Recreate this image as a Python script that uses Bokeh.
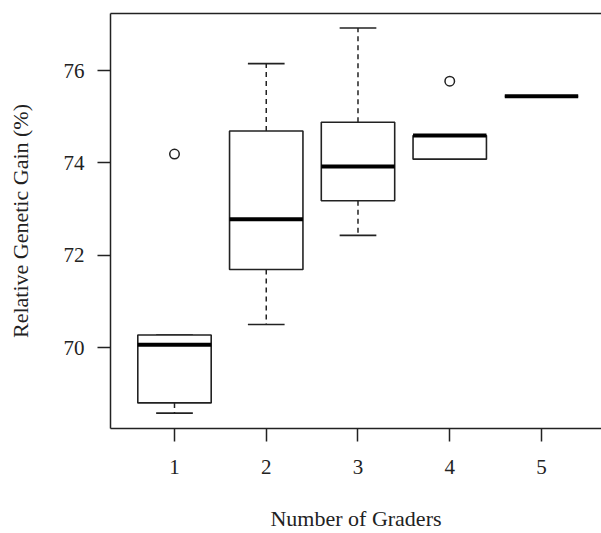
from bokeh.plotting import figure
from bokeh.models import Range1d, LinearAxis, FixedTicker
from bokeh.embed import file_html
from bokeh.resources import INLINE

# ---- data ----
graders = [1, 2, 3, 4, 5]
lower_whisker = [68.58, 70.50, 72.43, 74.08, 75.44]
q1 = [68.80, 71.69, 73.18, 74.08, 75.44]
median = [70.06, 72.78, 73.92, 74.59, 75.44]
q3 = [70.27, 74.69, 74.88, 74.59, 75.44]
upper_whisker = [70.27, 76.15, 76.92, 74.59, 75.44]
outlier_x = [1, 4]
outlier_y = [74.19, 75.77]
y_ticks = [70, 72, 74, 76]
x_ticks = [1, 2, 3, 4, 5]

FONT = "Liberation Serif"
LINE = "#222222"
box_w = 0.8
cap_w = 0.4

p = figure(width=601, height=533, output_backend="svg", toolbar_location=None,
           x_range=Range1d(0.3025, 5.654), y_range=Range1d(68.246, 77.235),
           min_border_left=110, min_border_right=0, min_border_top=13,
           min_border_bottom=105, background_fill_color="white",
           border_fill_color="white")
p.outline_line_color = None
p.grid.visible = False

left = [g - box_w / 2 for g in graders]
right = [g + box_w / 2 for g in graders]
cap_l = [g - cap_w / 2 for g in graders]
cap_r = [g + cap_w / 2 for g in graders]

# whiskers (dashed)
p.segment(x0=graders, y0=q3, x1=graders, y1=upper_whisker, line_color=LINE,
          line_width=1.5, line_dash="5 4")
p.segment(x0=graders, y0=q1, x1=graders, y1=lower_whisker, line_color=LINE,
          line_width=1.5, line_dash="5 4")
# caps
p.segment(x0=cap_l, y0=upper_whisker, x1=cap_r, y1=upper_whisker, line_color=LINE, line_width=1.6)
p.segment(x0=cap_l, y0=lower_whisker, x1=cap_r, y1=lower_whisker, line_color=LINE, line_width=1.6)
# boxes
p.quad(left=left, right=right, bottom=q1, top=q3, fill_color="white",
       line_color=LINE, line_width=1.6)
# medians
p.segment(x0=left, y0=median, x1=right, y1=median, line_color="black", line_width=4)
# outliers
p.scatter(x=outlier_x, y=outlier_y, marker="circle", size=9.5, fill_color=None,
          line_color=LINE, line_width=1.5)

# axes
for ax in (p.xaxis[0], p.yaxis[0]):
    ax.axis_line_color = LINE
    ax.axis_line_width = 1.5
    ax.major_tick_line_color = LINE
    ax.major_tick_line_width = 1.5
    ax.major_tick_out = 13
    ax.major_tick_in = 0
    ax.minor_tick_line_color = None
    ax.major_label_text_font = FONT
    ax.major_label_text_font_size = "21px"
    ax.major_label_text_color = "#222222"
    ax.axis_label_text_font = FONT
    ax.axis_label_text_font_size = "22px"
    ax.axis_label_text_font_style = "normal"
    ax.axis_label_text_color = "#222222"

p.xaxis.ticker = FixedTicker(ticks=x_ticks)
p.yaxis.ticker = FixedTicker(ticks=y_ticks)
p.xaxis.axis_label = "Number of Graders"
p.yaxis.axis_label = "Relative Genetic Gain (%)"
p.xaxis.major_label_standoff = 18
p.yaxis.major_label_standoff = 13
p.xaxis.axis_label_standoff = 29
p.yaxis.axis_label_standoff = 28

top_axis = LinearAxis(ticker=FixedTicker(ticks=[]), axis_line_color=LINE,
                      axis_line_width=1.5, major_tick_line_color=None,
                      minor_tick_line_color=None, major_label_text_font_size="0px")
p.add_layout(top_axis, "above")

open("out.html", "w").write(file_html(p, INLINE))
